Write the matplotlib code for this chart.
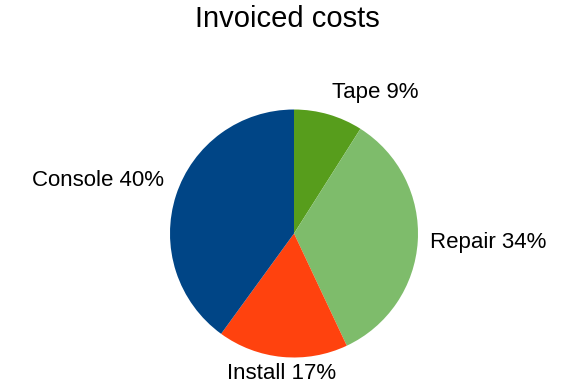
import numpy as np
import matplotlib
matplotlib.use('Agg')
import matplotlib.pyplot as plt

plt.rcParams['font.family'] = ['Liberation Sans', 'DejaVu Sans']

categories = ['Tape', 'Repair', 'Install', 'Console']
shares = [9, 34, 17, 40]
colours = ['#579d1c', '#7ebc6b', '#ff420e', '#004586']

fig = plt.figure(figsize=(5.63, 3.88), dpi=100)
ax = fig.add_axes([(294 - 124) / 563, (388 - 233.5 - 124) / 388, 248 / 563, 248 / 388])

labels = ['%s %d%%' % (c, s) for c, s in zip(categories, shares)]
wedges, texts = ax.pie(shares, labels=labels, colors=colours, startangle=90,
                       counterclock=False, labeldistance=1.1, radius=1,
                       wedgeprops=dict(linewidth=0))

# align labels the way the office chart does
for w, t in zip(wedges, texts):
    ang = np.deg2rad((w.theta1 + w.theta2) / 2)
    c, s = np.cos(ang), np.sin(ang)
    t.set_ha('center' if abs(c) < 0.15 else ('left' if c > 0 else 'right'))
    t.set_va('center' if abs(s) < 0.3 else ('bottom' if s > 0 else 'top'))
    if s < -0.9:
        x, y = t.get_position()
        t.set_position((x * 1.05 / 1.1, y * 1.05 / 1.1))
    t.set_fontsize(16)
    t.set_clip_on(False)

ax.set_xlim(-1, 1)
ax.set_ylim(-1, 1)
ax.axis('off')

fig.text(0.51, 1 - 19 / 388, 'Invoiced costs', ha='center', va='center', fontsize=21)

fig.savefig('out.png', dpi=100)
